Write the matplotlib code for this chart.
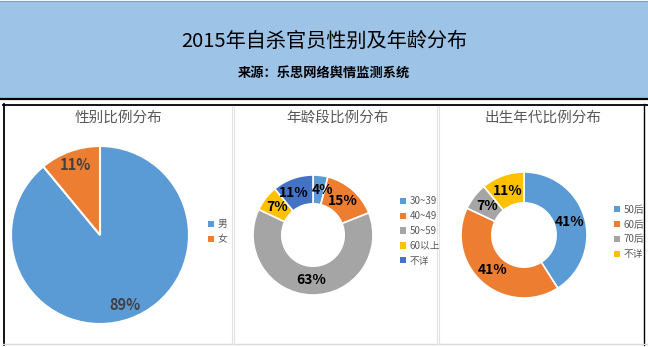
import matplotlib.pyplot as plt
from matplotlib.patches import Rectangle

plt.rcParams['font.family'] = ['Noto Sans CJK SC', 'DejaVu Sans']

W, H = 648, 347

# 性别
gender_labels = ['男', '女']
gender_values = [89, 11]
# 年龄段
age_labels = ['30~39', '40~49', '50~59', '60以上', '不详']
age_values = [4, 15, 63, 7, 11]
# 出生年代
birth_labels = ['50后', '60后', '70后', '不详']
birth_values = [41, 41, 7, 11]

office = ['#5B9BD5', '#ED7D31', '#A5A5A5', '#FFC000', '#4472C4']
grey_txt = '#595959'

fig = plt.figure(figsize=(W / 100, H / 100), dpi=100)
fig.patch.set_facecolor('white')

# 背景、表头和分栏框线（像素坐标）
bg = fig.add_axes([0, 0, 1, 1])
bg.set_xlim(0, W)
bg.set_ylim(H, 0)
bg.axis('off')
bg.add_patch(Rectangle((0, 1), W, 97, facecolor='#9DC3E6', edgecolor='none'))
bg.plot([0, W], [1, 1], color='#7F9FC0', lw=0.8)
bg.plot([0, W], [99, 99], color='black', lw=1.6)
bg.plot([3, W], [104.5, 104.5], color='black', lw=1.3)
bg.plot([3.5, 3.5], [104, 345], color='black', lw=1.3)
bg.plot([643.5, 643.5], [104, 345], color='black', lw=1.0)
bg.plot([3, W], [344, 344], color='#D9D9D9', lw=1.0)
for x in (231.5, 233.5, 436.5, 438.5):
    bg.plot([x, x], [106, 344], color='#E3E3E3', lw=0.8)

bg.text(W / 2, 41, '2015年自杀官员性别及年龄分布', ha='center', va='center',
        fontsize=14.5, color='black')
bg.text(W / 2, 73, '来源：乐思网络舆情监测系统', ha='center', va='center',
        fontsize=9.5, fontweight='bold', color='black')

bg.text(118, 118, '性别比例分布', ha='center', va='center', fontsize=10.5, color=grey_txt)
bg.text(338, 118, '年龄段比例分布', ha='center', va='center', fontsize=10.5, color=grey_txt)
bg.text(543, 118, '出生年代比例分布', ha='center', va='center', fontsize=10.5, color=grey_txt)


def pie_axes(cx, cy, r):
    ax = fig.add_axes([(cx - r) / W, 1 - (cy + r) / H, 2 * r / W, 2 * r / H])
    ax.set_aspect('equal')
    return ax


def legend_at(ax, wedges, labels, x, y, spacing):
    leg = ax.legend(wedges, labels, loc='center left',
                    bbox_to_anchor=(x / W, 1 - y / H), bbox_transform=fig.transFigure,
                    frameon=False, fontsize=7, handlelength=0.6, handleheight=0.6,
                    handletextpad=0.4, labelspacing=spacing, borderpad=0)
    for t in leg.get_texts():
        t.set_color(grey_txt)
    for h in leg.legend_handles:
        h.set_edgecolor('none')


def style_pct(texts, size, color):
    for t in texts:
        t.set_fontsize(size)
        t.set_fontweight('bold')
        t.set_color(color)


# 性别饼图
ax1 = pie_axes(100, 235, 89)
w1, _, at1 = ax1.pie(gender_values, colors=office[:2], startangle=90, counterclock=False,
                     autopct='%d%%', pctdistance=0.83,
                     wedgeprops=dict(edgecolor='white', linewidth=1.5))
ax1.set_xlim(-1, 1)
ax1.set_ylim(-1, 1)
style_pct(at1, 10.5, '#404040')
legend_at(ax1, w1, gender_labels, 203, 232, 0.55)

# 年龄段环形图
ax2 = pie_axes(313, 235, 60)
w2, _, at2 = ax2.pie(age_values, colors=office, startangle=90, counterclock=False,
                     autopct='%d%%', pctdistance=0.75,
                     wedgeprops=dict(width=0.48, edgecolor='white', linewidth=1.2))
ax2.set_xlim(-1, 1)
ax2.set_ylim(-1, 1)
style_pct(at2, 10, 'black')
# 4% 与 11% 两个标签挨得很近，各向外挪一点
x0, y0 = at2[0].get_position()
at2[0].set_position((x0 + 0.07, y0))
x4, y4 = at2[4].get_position()
at2[4].set_position((x4 - 0.07, y4))
legend_at(ax2, w2, age_labels, 395, 231, 0.5)

# 出生年代环形图
ax3 = pie_axes(524, 235, 63)
w3, _, at3 = ax3.pie(birth_values, colors=office[:4], startangle=90, counterclock=False,
                     autopct='%d%%', pctdistance=0.75,
                     wedgeprops=dict(width=0.49, edgecolor='white', linewidth=1.2))
ax3.set_xlim(-1, 1)
ax3.set_ylim(-1, 1)
style_pct(at3, 10, 'black')
legend_at(ax3, w3, birth_labels, 609, 232, 0.5)

fig.savefig('out.png', dpi=100)
